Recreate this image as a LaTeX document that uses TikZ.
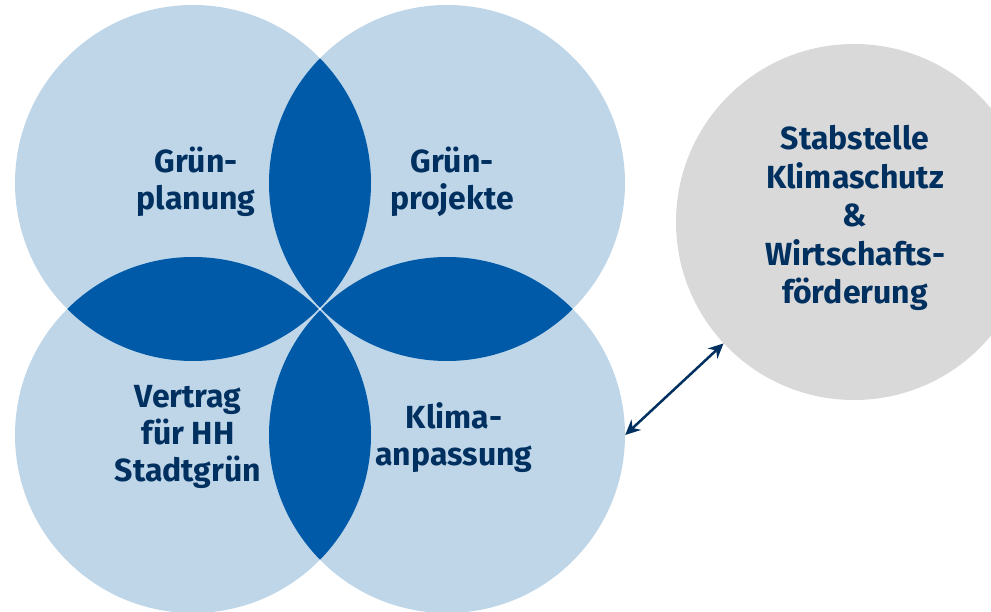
\documentclass[tikz,border=0pt]{standalone}
\usepackage{fontspec}
\setmainfont{Fira Sans}
\usetikzlibrary{arrows.meta}
\definecolor{ringcolor}{RGB}{191,214,233}
\definecolor{lenscolor}{RGB}{0,90,168}
\definecolor{staffcolor}{RGB}{217,217,217}
\definecolor{labelcolor}{RGB}{0,48,95}

\begin{document}
\begin{tikzpicture}[
    x=1pt, y=-1pt,
    ring/.style={circle, fill=ringcolor, minimum size=356pt, inner sep=0pt},
    staff/.style={circle, fill=staffcolor, minimum size=356pt, inner sep=0pt},
    lens/.style={fill=lenscolor},
    ringtext/.style={font=\bfseries\fontsize{32}{37}\selectfont, text=labelcolor, align=center},
    link/.style={{Stealth[length=15pt,width=14pt]}-{Stealth[length=15pt,width=14pt]}, line width=2.5pt, draw=labelcolor}
]
    \useasboundingbox (0,0) rectangle (991,612);
    \clip (0,0) rectangle (991,612);

    % Circles
    \node[ring] (tl) at (193,183) {};
    \node[ring] (tr) at (447,183) {};
    \node[ring] (bl) at (193,435) {};
    \node[ring] (br) at (447,435) {};
    \node[staff] (stab) at (854,222) {};

    % Overlaps
    \begin{scope}
        \clip (tl.center) circle[radius=178pt];
        \fill[lens] (tr.center) circle[radius=178pt];
        \fill[lens] (bl.center) circle[radius=178pt];
    \end{scope}
    \begin{scope}
        \clip (br.center) circle[radius=178pt];
        \fill[lens] (tr.center) circle[radius=178pt];
        \fill[lens] (bl.center) circle[radius=178pt];
    \end{scope}

    % Labels
    \node[ringtext] (planung) at (196,182) {Grün-\\planung};
    \node[ringtext] (projekte) at (452,182) {Grün-\\projekte};
    \node[ringtext] (vertrag) at (188,437) {Vertrag\\für HH\\Stadtgrün};
    \node[ringtext] (klima) at (454,438) {Klima-\\anpassung};
    \node[ringtext, font=\bfseries\fontsize{32}{38.5}\selectfont] (stabtext) at (855,218) {Stabstelle\\Klimaschutz\\\&\\Wirtschafts-\\förderung};

    % Link
    \draw[link] (br.east) -- (stab);
\end{tikzpicture}
\end{document}
